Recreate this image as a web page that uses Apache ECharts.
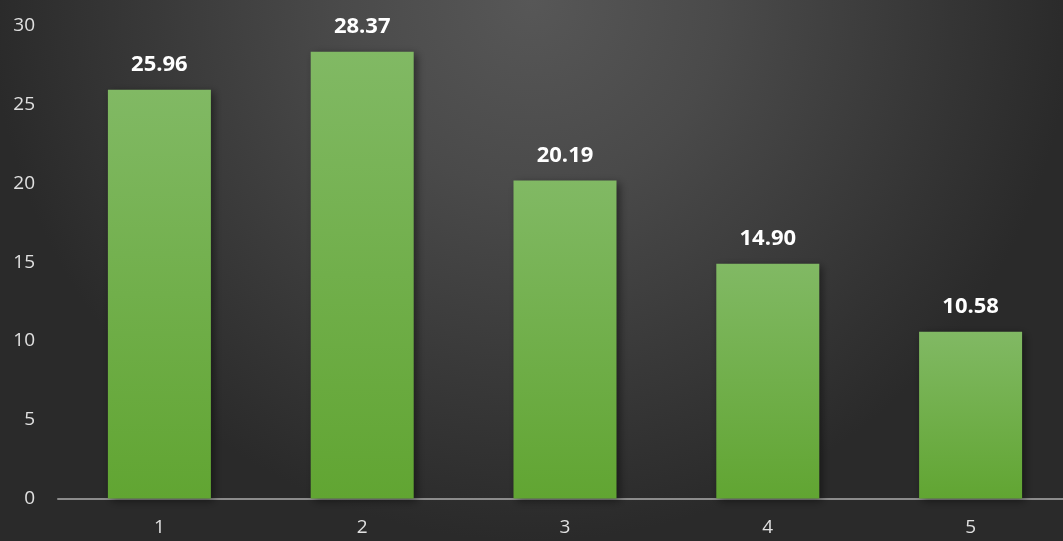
<!DOCTYPE html>
<html><head><meta charset="utf-8">
<script src="https://cdn.jsdelivr.net/npm/echarts@6/dist/echarts.min.js"></script>
<style>html,body{margin:0;padding:0;}#c{width:1063px;height:541px;}</style>
</head><body><div id="c"></div>
<script>
const categories = ['1','2','3','4','5'];
const values = [25.96, 28.37, 20.19, 14.90, 10.58];
const yTicks = [0, 5, 10, 15, 20, 25, 30];

const chart = echarts.init(document.getElementById('c'));
chart.setOption({
  animation: false,
  backgroundColor: {type:'radial', x:0.5, y:0.0, r:1.0,
    colorStops:[{offset:0,color:'#575757'},{offset:0.35,color:'#4a4a4a'},{offset:1,color:'#2a2a2a'}]},
  grid: {left:58, top:26, bottom:42.5, width:1014, containLabel:false, outerBoundsMode:'none'},
  xAxis: {type:'category', data:categories,
    axisLine:{lineStyle:{color:'#8c8c8c', width:2}},
    axisTick:{show:false},
    axisLabel:{color:'#e0e0e0', fontSize:19, fontFamily:'Open Sans', margin:20}},
  yAxis: {type:'value', min:yTicks[0], max:yTicks[yTicks.length-1], interval:5,
    splitLine:{show:false}, axisLine:{show:false}, axisTick:{show:false},
    axisLabel:{color:'#e0e0e0', fontSize:19, fontFamily:'Open Sans', margin:23}},
  series: [{type:'bar', data:values, barWidth:103,
    itemStyle:{color:{type:'linear',x:0,y:0,x2:0,y2:1,
      colorStops:[{offset:0,color:'#81b964'},{offset:1,color:'#61a532'}]},
      shadowColor:'rgba(0,0,0,0.45)', shadowBlur:8, shadowOffsetX:3, shadowOffsetY:2},
    label:{show:true, position:'top', distance:14, color:'#ffffff', fontSize:22,
      fontWeight:'bold', fontFamily:'Open Sans',
      formatter: p => p.value.toFixed(2)}}]
});
</script></body></html>
